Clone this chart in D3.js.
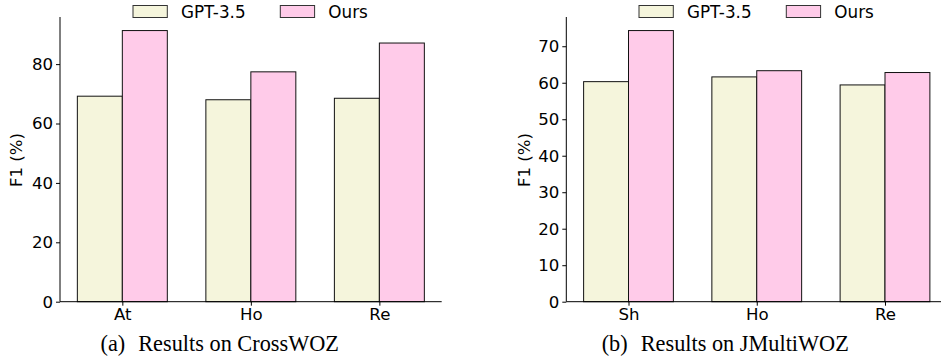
<!DOCTYPE html>
<html><head><meta charset="utf-8">
<script src="https://cdn.jsdelivr.net/npm/d3@7"></script>
<style>body{margin:0;background:#fff}svg{display:block}</style>
</head><body>
<svg id="c" width="941" height="363"></svg>
<script>
const seriesNames = ["GPT-3.5", "Ours"];
const catsA = ["At", "Ho", "Re"];
const gptA = [69.2, 68.0, 68.5];
const oursA = [91.3, 77.4, 87.1];
const ticksA = [0, 20, 40, 60, 80];
const catsB = ["Sh", "Ho", "Re"];
const gptB = [60.3, 61.6, 59.4];
const oursB = [74.3, 63.3, 62.8];
const ticksB = [0, 10, 20, 30, 40, 50, 60, 70];
const captionA = ["(a)", "Results on CrossWOZ"];
const captionB = ["(b)", "Results on JMultiWOZ"];
const colors = ["#f5f5dc", "#ffcbe9"];

const svg = d3.select("#c");
const font = "DejaVu Sans, sans-serif";
const fs = 16.6;

function panel(cfg) {
  const {left, right, cats, s1, s2, ticks, caption, legendX, labelX} = cfg;
  const top = 17, base = 301.7;
  const g = svg.append("g");
  const maxV = d3.max(s1.concat(s2)) * 1.05;
  const y = d3.scaleLinear().domain([0, maxV]).range([base, top]);
  const x = d3.scaleLinear().domain([-0.485, 2.485]).range([left, right]);
  const w = 0.35;
  const data = [s1, s2];
  data.forEach((s, si) => {
    g.selectAll(null).data(s).enter().append("rect")
      .attr("x", (d, i) => x(i - w + si * w))
      .attr("width", x(w) - x(0))
      .attr("y", d => y(d))
      .attr("height", d => base - y(d))
      .attr("fill", colors[si])
      .attr("stroke", "#111")
      .attr("stroke-width", 1);
  });
  const ya = d3.axisLeft(y).tickValues(ticks).tickSize(4).tickPadding(3);
  const ga = g.append("g").attr("transform", `translate(${left},0)`).call(ya);
  ga.select(".domain").attr("d", `M0,${top}V${base}`).attr("stroke", "#000");
  ga.selectAll("text").attr("font-family", font).attr("font-size", fs).attr("fill", "#000");
  const xa = d3.axisBottom(x).tickValues([0, 1, 2]).tickFormat(i => cats[i]).tickSize(4).tickPadding(3);
  const gx = g.append("g").attr("transform", `translate(0,${base})`).call(xa);
  gx.select(".domain").attr("d", `M${left},0H${right}`).attr("stroke", "#000");
  gx.selectAll("text").attr("font-family", font).attr("font-size", fs).attr("fill", "#000");
  g.append("text").attr("transform", `translate(${labelX},160) rotate(-90)`)
    .attr("text-anchor", "middle").attr("dy", "0.35em")
    .attr("font-family", font).attr("font-size", fs).text("F1 (%)");
  // legend
  const lx = [legendX, legendX + 147.3];
  seriesNames.forEach((n, i) => {
    g.append("rect").attr("x", lx[i]).attr("y", 5.5).attr("width", 34.3).attr("height", 12)
      .attr("fill", colors[i]).attr("stroke", "#333").attr("stroke-width", 1);
    g.append("text").attr("x", lx[i] + 48).attr("y", 18.2)
      .attr("font-family", font).attr("font-size", 16.8).text(n);
  });
  // caption
  const cap = g.append("text").attr("x", cfg.capX).attr("y", 351.3)
    .attr("font-family", "Liberation Serif, Times New Roman, serif").attr("font-size", 22.3);
  cap.append("tspan").text(caption[0]);
  cap.append("tspan").attr("dx", 13).text(caption[1]);
}

panel({left: 60, right: 441.7, cats: catsA, s1: gptA, s2: oursA, ticks: ticksA,
  caption: captionA, legendX: 133, labelX: 16, capX: 100.5});
panel({left: 566.3, right: 947.2, cats: catsB, s1: gptB, s2: oursB, ticks: ticksB,
  caption: captionB, legendX: 639, labelX: 524, capX: 601.7});
</script>
</body></html>
